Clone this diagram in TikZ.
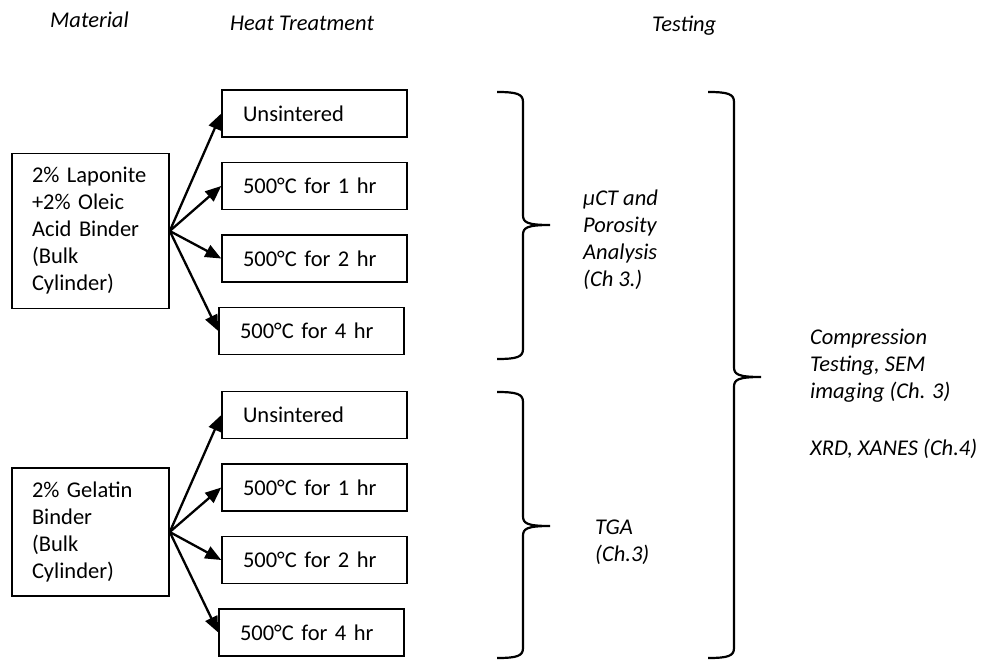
\documentclass[tikz,border=0pt]{standalone}
\usepackage{fontspec}
\setmainfont{Carlito}
\usetikzlibrary{arrows.meta,positioning}

% right brace in the Word style: #1 left x, #2 top y, #3 tip y, #4 bottom y
\newcommand{\testbrace}[4]{%
  \draw[brc] (#1,#2) .. controls (#1+20,#2) and (#1+26,#2+2) .. (#1+26,#2+10)
    -- (#1+26,#3-10) .. controls (#1+26,#3-3) and (#1+29,#3) .. (#1+53,#3)
    .. controls (#1+29,#3) and (#1+26,#3+3) .. (#1+26,#3+10)
    -- (#1+26,#4-10) .. controls (#1+26,#4-2) and (#1+20,#4) .. (#1,#4);}

\begin{document}
\begin{tikzpicture}[
  x=1pt,y=-1pt,
  font=\fontsize{22.5pt}{27pt}\selectfont,
  node distance=24pt,
  matbox/.style={draw,line width=1.5pt,align=left,text width=117pt,inner xsep=20pt,inner ysep=14pt},
  treat/.style={draw,line width=1.5pt,align=left,text width=143pt,inner xsep=21pt,minimum height=47pt},
  hdr/.style={font=\fontsize{22.5pt}{27pt}\selectfont\itshape,anchor=base west,inner sep=0pt},
  lbl/.style={hdr,align=left,anchor=north west},
  arrow/.style={-{Triangle[length=16pt,width=13pt]},line width=2.3pt},
  brc/.style={line width=2.2pt}
]
\useasboundingbox (0,0) rectangle (982,661);

% --- Column headers ---
\node[hdr] (hmat)  at (50,28)  {Material};
\node[hdr] (hheat) at (230,31) {Heat Treatment};
\node[hdr] (htest) at (652,32) {Testing};

% --- Materials ---
\node[matbox] (lap) at (90.5,231) {2\%~Laponite\\+2\%~Oleic\\Acid~Binder\\(Bulk\\Cylinder)};
\node[matbox] (gel) at (90.5,532) {2\%~Gelatin\\Binder\\(Bulk\\Cylinder)};

% --- Heat treatments (stacked) ---
\node[treat] (lapraw) at (314.5,113.5)          {Unsintered};
\node[treat, below=24pt of lapraw]              (lap1) {500°C for 1 hr};
\node[treat, below=24pt of lap1]                (lap2) {500°C for 2 hr};
\node[treat, below=24pt of lap2, xshift=-3pt]   (lap4) {500°C for 4 hr};

\node[treat] (gelraw) at (314.5,415)            {Unsintered};
\node[treat, below=24pt of gelraw]              (gel1) {500°C for 1 hr};
\node[treat, below=24pt of gel1]                (gel2) {500°C for 2 hr};
\node[treat, below=24pt of gel2, xshift=-3pt]   (gel4) {500°C for 4 hr};

% --- Flows ---
\draw[arrow] (lap.east) -- (lapraw.west);
\draw[arrow] (lap.east) -- (lap1.west);
\draw[arrow] (lap.east) -- (lap2.west);
\draw[arrow] (lap.east) -- (lap4.west);

\draw[arrow] (gel.east) -- (gelraw.west);
\draw[arrow] (gel.east) -- (gel1.west);
\draw[arrow] (gel.east) -- (gel2.west);
\draw[arrow] (gel.east) -- (gel4.west);

% --- Testing braces and labels ---
\testbrace{497}{92}{225}{359}
\testbrace{497}{392}{526}{658}
\testbrace{708}{92}{377}{658}

\node[lbl] (ct)   at (583,190) {μCT and\\Porosity\\Analysis\\(Ch 3.)};
\node[lbl] (tga)  at (595,520) {TGA\\(Ch.3)};
\node[lbl] (comp) at (810,329) {Compression\\Testing, SEM\\imaging (Ch. 3)\\[30pt]XRD, XANES (Ch.4)};
\end{tikzpicture}
\end{document}
